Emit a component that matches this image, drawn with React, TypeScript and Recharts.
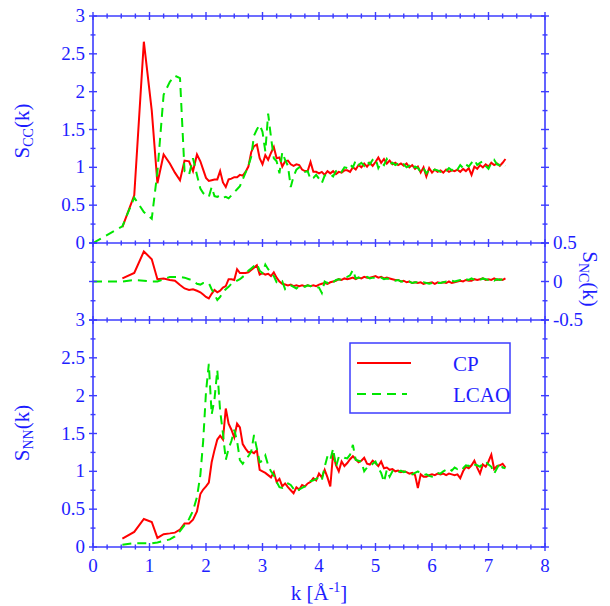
import React from 'react';
import { LineChart, Line, XAxis, YAxis } from 'recharts';

// k grid (Å^-1): sparse at low k, then every 0.05
const kValues = [
  0, 0.52, 0.73, 0.9, 1.04, 1.14, 1.25, 1.36, 1.45, 1.54, 1.62, 1.7, 1.77, 1.84, 1.9, 1.95,
  2, 2.05, 2.1, 2.15, 2.2, 2.25, 2.3, 2.35, 2.4, 2.45,
  2.5, 2.55, 2.6, 2.65, 2.7, 2.75, 2.8, 2.85, 2.9, 2.95,
  3, 3.05, 3.1, 3.15, 3.2, 3.25, 3.3, 3.35, 3.4, 3.45,
  3.5, 3.55, 3.6, 3.65, 3.7, 3.75, 3.8, 3.85, 3.9, 3.95,
  4, 4.05, 4.1, 4.15, 4.2, 4.25, 4.3, 4.35, 4.4, 4.45,
  4.5, 4.55, 4.6, 4.65, 4.7, 4.75, 4.8, 4.85, 4.9, 4.95,
  5, 5.05, 5.1, 5.15, 5.2, 5.25, 5.3, 5.35, 5.4, 5.45,
  5.5, 5.55, 5.6, 5.65, 5.7, 5.75, 5.8, 5.85, 5.9, 5.95,
  6, 6.05, 6.1, 6.15, 6.2, 6.25, 6.3, 6.35, 6.4, 6.45,
  6.5, 6.55, 6.6, 6.65, 6.7, 6.75, 6.8, 6.85, 6.9, 6.95,
  7, 7.05, 7.1, 7.15, 7.2, 7.25, 7.3,
];

const sccCP = [
  null, 0.21, 0.63, 2.66, 1.75, 0.79, 1.17, 1.05, 0.93, 0.83, 1.09, 1.08, 0.95, 1.17, 1.08, 0.97,
  0.86, 0.82, 0.83, 0.84, 0.84, 0.95, 0.8, 0.74, 0.84, 0.85,
  0.87, 0.87, 0.9, 0.89, 0.94, 1.01, 1.2, 1.28, 1.3, 1.12,
  1.04, 1.16, 1.1, 1.19, 1.27, 1.12, 1.13, 1.01, 1.08, 1.09,
  1.04, 1.02, 1.04, 1.03, 0.97, 0.95, 0.95, 1.07, 0.94, 0.94,
  0.92, 0.94, 0.9, 0.95, 0.92, 0.95, 0.91, 0.94, 0.93, 0.96,
  0.96, 0.94, 1.0, 0.97, 1.03, 1.0, 1.05, 1.01, 1.06, 1.02,
  1.07, 1.13, 1.06, 1.11, 1.05, 1.09, 1.04, 1.06, 1.03, 1.05,
  1.02, 1.05, 1.0, 1.03, 0.98, 1.01, 0.93, 1.0, 0.88, 0.99,
  0.93, 0.97, 0.94, 0.96, 0.93, 0.97, 0.94, 0.96, 0.95, 0.97,
  0.94, 0.98, 0.95, 0.99, 0.9, 1.01, 0.98, 1.03, 1.0, 1.04,
  1.01, 1.06, 1.03, 1.05, 1.02, 1.06, 1.11,
];

const sccLCAO = [
  0, 0.22, 0.6, 0.41, 0.32, 0.94, 1.96, 2.13, 2.21, 2.18, 0.95, 0.9, 1.12, 0.9, 0.72, 0.66,
  0.63, 0.61, 0.74, 0.62, 0.61, 0.63, 0.6, 0.61, 0.59, 0.63,
  0.67, 0.71, 0.75, 0.84, 0.93, 1.02, 1.14, 1.42, 1.5, 1.56,
  1.47, 1.21, 1.71, 1.4, 1.12, 1.08, 0.92, 1.2, 1.1, 1.02,
  0.74, 0.88, 0.97, 1.0, 0.96, 0.94, 0.95, 0.84, 0.86, 0.9,
  0.85, 0.79, 0.89, 0.9, 0.91, 0.88, 0.95, 0.98, 0.94, 1.0,
  0.99, 1.04, 1.0, 1.09, 1.03, 1.06, 1.02, 1.08, 1.04, 1.1,
  1.12, 0.99, 1.06, 1.03, 1.11, 1.04, 1.06, 1.03, 1.05, 1.02,
  1.04, 1.0, 1.02, 0.97, 1.01, 0.99, 0.94, 0.99, 0.92, 0.97,
  0.95, 0.97, 0.96, 0.94, 0.97, 0.95, 0.99, 0.96, 1.0, 0.97,
  1.03, 0.99, 1.04, 1.01, 1.06, 1.1, 1.03, 1.06, 1.08, 1.02,
  0.98, 1.06, 1.1, 1.04, 1.03, 1.05, 1.02,
];

const sncCP = [
  null, 0.04, 0.11, 0.39, 0.29, 0.03, 0.04, 0.02, 0.01, -0.045, -0.09, -0.11, -0.1, -0.12, -0.14, -0.17,
  -0.2, -0.22, -0.16, -0.11, -0.14, -0.12, -0.08, -0.06, 0.03, 0.03,
  0.02, 0.16, 0.11, 0.11, 0.11, 0.12, 0.15, 0.18, 0.21, 0.09,
  0.11, 0.09, 0.1, 0.07, 0.12, 0.05, 0.0, -0.03, -0.04, -0.05,
  -0.04, -0.06, -0.05, -0.06, -0.05, -0.06, -0.05, -0.06, -0.05, -0.06,
  -0.04, -0.03, -0.02, -0.03, -0.01, 0.0, 0.01, 0.03, 0.02, 0.04,
  0.03, 0.04, 0.05, 0.03, 0.05, 0.04, 0.06, 0.05, 0.05, 0.06,
  0.07, 0.05, 0.06, 0.04, 0.05, 0.04, 0.03, 0.02, 0.02, 0.0,
  0.01, -0.01, 0.0, -0.02, -0.01, -0.02, -0.01, -0.03, -0.02, -0.02,
  -0.01, -0.03, -0.01, -0.02, -0.01, -0.02, 0.0, -0.02, -0.01, 0.0,
  0.01, 0.0, 0.02, 0.01, 0.01, 0.03, 0.02, 0.03, 0.04, 0.02,
  0.03, 0.02, 0.04, 0.02, 0.03, 0.02, 0.04,
];

const sncLCAO = [
  0, 0, 0.02, 0.01, 0, 0, 0.03, 0.06, 0.06, 0.06, 0.05, 0.03, 0.01, -0.03, -0.04, -0.02,
  -0.02, -0.02, -0.1, -0.17, -0.24, -0.2, -0.14, -0.1, -0.07, -0.03,
  -0.01, 0.01, 0.03, 0.06, 0.09, 0.14, 0.17, 0.2, 0.23, 0.14,
  0.11, 0.22, 0.16, 0.12, 0.07, -0.01, -0.03, 0.0, -0.1, -0.07,
  -0.05, -0.07, -0.09, -0.06, -0.05, -0.07, -0.05, -0.06, -0.05, -0.07,
  -0.08, -0.15, 0.0, -0.02, 0.01, -0.01, 0.02, 0.03, 0.02, 0.05,
  0.06, 0.08, 0.15, 0.04, 0.05, 0.04, 0.05, 0.06, 0.04, 0.05,
  0.05, 0.04, 0.05, 0.03, 0.04, 0.03, 0.02, 0.01, 0.02, 0.0,
  0.0, -0.01, 0.0, -0.02, -0.01, -0.01, -0.02, -0.01, -0.02, -0.03,
  -0.02, -0.01, -0.02, -0.02, -0.01, 0.0, -0.01, 0.01, 0.0, 0.01,
  0.02, 0.01, 0.03, 0.02, 0.04, 0.02, 0.03, 0.02, 0.04, 0.03,
  0.02, 0.03, 0.01, 0.03, 0.02, 0.03, 0.02,
];

const snnCP = [
  null, 0.11, 0.2, 0.37, 0.33, 0.12, 0.17, 0.18, 0.19, 0.23, 0.31, 0.31, 0.36, 0.47, 0.7, 0.76,
  0.8, 0.85, 1.12, 1.28, 1.42, 1.47, 1.42, 1.83, 1.63, 1.55,
  1.45, 1.63, 1.58, 1.36, 1.3, 1.25, 1.26, 1.24, 1.28, 1.02,
  1.0, 0.98, 0.95, 0.92, 0.99, 0.86, 0.9, 0.8, 0.84, 0.79,
  0.75, 0.71, 0.79, 0.76, 0.82, 0.8, 0.84, 0.86, 0.91, 0.88,
  0.97, 0.92, 1.02, 0.92, 0.8, 1.24, 1.08, 1.0, 1.13, 1.07,
  1.11, 1.16, 1.2, 1.16, 1.12, 1.14, 1.18, 1.1, 1.09, 1.14,
  1.11, 1.07, 1.13, 1.04, 1.05, 1.02, 1.03, 1.0, 1.01, 0.99,
  1.0, 0.99, 0.97, 0.98, 0.95, 0.78, 0.96, 0.93, 0.93, 0.95,
  0.96, 0.95, 0.97, 0.96, 0.97, 0.95, 0.97, 0.96, 0.95, 0.96,
  0.91, 1.0, 1.06, 1.04, 1.08, 1.14, 1.05, 0.97, 1.09, 1.06,
  1.13, 1.22, 1.03, 1.07, 1.08, 1.1, 1.05,
];

const snnLCAO = [
  null, 0.03, 0.05, 0.05, 0.05, 0.06, 0.08, 0.1, 0.14, 0.21, 0.29, 0.37, 0.48, 0.66, 0.95, 1.4,
  2.05, 2.42, 1.75, 1.95, 2.34, 1.8, 1.5, 1.15, 1.3, 1.4,
  1.55, 1.4, 1.15, 1.1, 1.16, 1.2, 1.26, 1.48, 1.3, 1.12,
  1.14, 1.21, 1.08, 1.0, 0.95, 0.86, 0.79, 0.78, 0.82, 0.84,
  0.82, 0.77, 0.73, 0.76, 0.78, 0.8, 0.83, 0.87, 0.88, 0.9,
  0.92, 0.88, 1.06, 1.2, 1.15, 1.3, 1.06, 1.19, 1.2, 1.18,
  1.17, 1.22, 1.35, 1.15, 1.14, 1.13, 1.0, 1.05, 1.06, 1.1,
  1.13, 1.04, 0.98, 0.86, 1.02, 0.93, 1.0, 0.97, 0.98, 1.01,
  0.99, 1.0, 0.97, 0.96, 0.98, 1.0, 0.97, 0.95, 0.96, 0.94,
  0.93, 0.96, 0.98, 0.97, 1.0, 1.02, 1.04, 1.01, 1.05, 1.03,
  1.06, 1.04, 1.08, 1.07, 1.11, 1.09, 1.08, 1.06, 1.1, 1.13,
  1.09, 1.06, 0.97, 1.04, 1.11, 1.05, 1.04,
];

const xTicks = [0, 0.25, 0.5, 0.75, 1, 1.25, 1.5, 1.75, 2, 2.25, 2.5, 2.75, 3, 3.25, 3.5, 3.75, 4,
  4.25, 4.5, 4.75, 5, 5.25, 5.5, 5.75, 6, 6.25, 6.5, 6.75, 7, 7.25, 7.5, 7.75, 8];
const sTicks = [0, 0.25, 0.5, 0.75, 1, 1.25, 1.5, 1.75, 2, 2.25, 2.5, 2.75, 3];
const ncTicks = [-0.5, -0.25, 0, 0.25, 0.5];

const rows = kValues.map((k, i) => ({
  k,
  sccCP: sccCP[i], sccLCAO: sccLCAO[i],
  sncCP: sncCP[i], sncLCAO: sncLCAO[i],
  snnCP: snnCP[i], snnLCAO: snnLCAO[i],
}));

const W = 610;
const H = 606;
const AXIS = '#3c3cff';
const TEXT = '#1e1eff';
const RED = '#ff0000';
const GREEN = '#00e600';
const FONT = '"Liberation Serif", "Times New Roman", serif';
const DASH = '9 6';

type Side = 'top' | 'bottom' | 'left' | 'right';

// crossing tick marks, longer on major steps, optional labels
const makeTick = (side: Side, step: number, labels: boolean) => (props: any) => {
  const { x, y, payload } = props;
  const v: number = payload.value;
  const r = v / step;
  const major = Math.abs(r - Math.round(r)) < 1e-6;
  const len = major ? 4 : 2.5;
  const vert = side === 'top' || side === 'bottom';
  let label = null;
  if (labels && major) {
    if (side === 'bottom') {
      label = <text x={x} y={y + 25} textAnchor="middle" fill={TEXT} fontSize={19} fontFamily={FONT}>{String(v)}</text>;
    } else if (side === 'left') {
      label = <text x={x - 8} y={y + 6} textAnchor="end" fill={TEXT} fontSize={19} fontFamily={FONT}>{String(v)}</text>;
    } else if (side === 'right') {
      label = <text x={x + 8} y={y + 6} textAnchor="start" fill={TEXT} fontSize={19} fontFamily={FONT}>{String(v)}</text>;
    }
  }
  return (
    <g>
      {vert
        ? <line x1={x} x2={x} y1={y - len} y2={y + len} stroke={AXIS} strokeWidth={1.4} />
        : <line x1={x - len} x2={x + len} y1={y} y2={y} stroke={AXIS} strokeWidth={1.4} />}
      {label}
    </g>
  );
};

const tickXBottom = makeTick('bottom', 1, false);
const tickXBottomLab = makeTick('bottom', 1, true);
const tickXTop = makeTick('top', 1, false);
const tickYLeftLab = makeTick('left', 0.5, true);
const tickYLeft = makeTick('left', 0.5, false);
const tickYRight = makeTick('right', 0.5, false);
const tickYRightLab = makeTick('right', 0.5, true);

const axisLine = { stroke: AXIS, strokeWidth: 1.6 };
const layer: React.CSSProperties = { position: 'absolute', left: 0, top: 0 };

function Panel(props: {
  top: number; bottom: number; domain: [number, number]; yTicks: number[];
  cp: string; lcao: string; leftTick: any; rightTick: any; bottomTick?: any; topAxis: boolean;
}) {
  const { top, bottom, domain, yTicks, cp, lcao, leftTick, rightTick, bottomTick, topAxis } = props;
  return (
    <div style={layer}>
      <LineChart width={W} height={H} data={rows}
        margin={{ top: topAxis ? top - 1 : top, bottom: bottomTick ? H - bottom - 1 : H - bottom, left: 92, right: 64 }}>
        {bottomTick ? (
          <XAxis xAxisId="x" dataKey="k" type="number" domain={[0, 8]} ticks={xTicks} interval={0}
            orientation="bottom" height={1} tickSize={0} tickMargin={0} tickLine={false}
            axisLine={axisLine} tick={bottomTick} />
        ) : (
          <XAxis xAxisId="x" dataKey="k" type="number" domain={[0, 8]} hide />
        )}
        {topAxis && (
          <XAxis xAxisId="t" dataKey="k" type="number" domain={[0, 8]} ticks={xTicks} interval={0}
            orientation="top" height={1} tickSize={0} tickMargin={0} tickLine={false}
            axisLine={axisLine} tick={tickXTop} />
        )}
        <YAxis yAxisId="l" type="number" domain={domain} ticks={yTicks} interval={0}
          orientation="left" width={1} tickSize={0} tickMargin={0} tickLine={false}
          axisLine={axisLine} tick={leftTick} allowDataOverflow />
        <YAxis yAxisId="r" type="number" domain={domain} ticks={yTicks} interval={0}
          orientation="right" width={1} tickSize={0} tickMargin={0} tickLine={false}
          axisLine={axisLine} tick={rightTick} allowDataOverflow />
        <Line xAxisId="x" yAxisId="l" type="linear" dataKey={cp} stroke={RED} strokeWidth={2}
          dot={false} activeDot={false} connectNulls isAnimationActive={false} />
        <Line xAxisId="x" yAxisId="l" type="linear" dataKey={lcao} stroke={GREEN} strokeWidth={2}
          strokeDasharray={DASH} dot={false} activeDot={false} connectNulls isAnimationActive={false} />
      </LineChart>
    </div>
  );
}

export default function App() {
  return (
    <div style={{ position: 'absolute', left: 0, top: 0, width: W, height: H, background: '#fff' }}>
      <Panel top={16} bottom={243} domain={[0, 3]} yTicks={sTicks} cp="sccCP" lcao="sccLCAO"
        leftTick={tickYLeftLab} rightTick={tickYRight} bottomTick={tickXBottom} topAxis />
      <Panel top={243} bottom={320} domain={[-0.5, 0.5]} yTicks={ncTicks} cp="sncCP" lcao="sncLCAO"
        leftTick={tickYLeft} rightTick={tickYRightLab} topAxis={false} />
      <Panel top={320} bottom={547} domain={[0, 3]} yTicks={sTicks} cp="snnCP" lcao="snnLCAO"
        leftTick={tickYLeftLab} rightTick={tickYRight} bottomTick={tickXBottomLab} topAxis />
      <svg width={W} height={H} style={{ ...layer, pointerEvents: 'none' }} fontFamily={FONT}>
        <text transform="translate(29,131) rotate(-90)" textAnchor="middle" fill={TEXT} fontSize={21}>
          S<tspan fontSize={14} dy={4}>CC</tspan><tspan dy={-4}>(k)</tspan>
        </text>
        <text transform="translate(29,433) rotate(-90)" textAnchor="middle" fill={TEXT} fontSize={21}>
          S<tspan fontSize={14} dy={4}>NN</tspan><tspan dy={-4}>(k)</tspan>
        </text>
        <text transform="translate(583,279) rotate(90)" textAnchor="middle" fill={TEXT} fontSize={21}>
          S<tspan fontSize={14} dy={4}>NC</tspan><tspan dy={-4}>(k)</tspan>
        </text>
        <text x={319} y={600} textAnchor="middle" fill={TEXT} fontSize={21}>
          k [Å<tspan fontSize={14} dy={-8}>-1</tspan><tspan dy={8}>]</tspan>
        </text>
        <rect x={350} y={343} width={160} height={70} fill="#fff" stroke={AXIS} strokeWidth={1.5} />
        <line x1={357} x2={411} y1={363} y2={363} stroke={RED} strokeWidth={2} />
        <line x1={357} x2={407} y1={394} y2={394} stroke={GREEN} strokeWidth={2} strokeDasharray={DASH} />
        <text x={453} y={371} fill={TEXT} fontSize={21}>CP</text>
        <text x={453} y={402} fill={TEXT} fontSize={21}>LCAO</text>
      </svg>
    </div>
  );
}
